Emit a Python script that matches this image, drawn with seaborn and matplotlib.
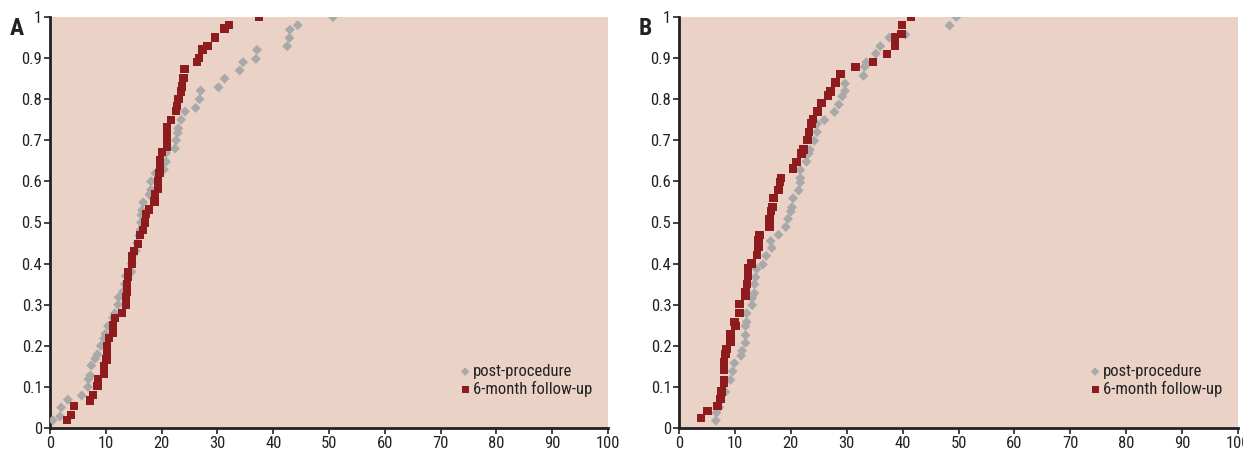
import pandas as pd
import matplotlib.pyplot as plt
import seaborn as sns

# Panel A data
a_post_x = [0.5, 1.8, 2.0, 3.2, 5.7, 6.8, 6.9, 7.2, 7.4, 8.1, 8.5, 9.1, 9.7, 9.9, 10.4, 11.3, 11.6, 12.2, 12.3, 13.1,
            13.4, 13.6, 14.6, 14.6, 14.8, 15.4, 15.6, 16.0, 16.2, 16.3, 16.4, 16.5, 16.7, 17.8, 18.1, 18.1, 18.9, 20.4, 20.8, 20.8,
            22.4, 22.6, 22.9, 23.0, 23.5, 24.2, 26.1, 26.8, 27.0, 30.2, 31.3, 34.0, 34.6, 36.9, 37.1, 42.5, 42.9, 43.0, 44.4, 50.7]
a_post_y = [0.019, 0.028, 0.05, 0.069, 0.079, 0.10, 0.119, 0.128, 0.152, 0.169, 0.179, 0.20, 0.218, 0.229, 0.248, 0.268, 0.279, 0.30, 0.318, 0.332,
            0.35, 0.37, 0.38, 0.40, 0.42, 0.431, 0.45, 0.468, 0.482, 0.50, 0.518, 0.53, 0.549, 0.568, 0.58, 0.60, 0.62, 0.629, 0.648, 0.669,
            0.68, 0.70, 0.718, 0.729, 0.75, 0.77, 0.779, 0.80, 0.821, 0.829, 0.85, 0.87, 0.89, 0.898, 0.92, 0.929, 0.949, 0.969, 0.98, 1.0]
a_fu_x = [3.1, 3.8, 4.3, 7.2, 7.7, 8.5, 8.6, 9.7, 9.7, 10.1, 10.2, 10.2, 10.6, 11.3, 11.3, 11.7, 12.9, 13.6, 13.6, 13.8,
          13.8, 14.0, 14.0, 14.7, 14.7, 15.1, 15.8, 16.1, 16.7, 17.0, 17.2, 17.8, 18.7, 18.8, 19.4, 19.4, 19.6, 19.7, 19.7, 20.1,
          21.0, 21.0, 21.0, 21.0, 21.7, 22.6, 22.8, 23.0, 23.5, 23.7, 23.9, 24.1, 26.4, 26.7, 27.3, 28.2, 29.6, 31.3, 32.1, 37.5]
a_fu_y = [0.019, 0.031, 0.053, 0.067, 0.08, 0.102, 0.119, 0.131, 0.15, 0.167, 0.182, 0.20, 0.219, 0.231, 0.25, 0.267, 0.28, 0.30, 0.319, 0.331,
          0.35, 0.367, 0.38, 0.40, 0.419, 0.431, 0.448, 0.47, 0.482, 0.50, 0.52, 0.532, 0.551, 0.569, 0.581, 0.60, 0.62, 0.632, 0.651, 0.671,
          0.683, 0.70, 0.72, 0.732, 0.749, 0.771, 0.783, 0.80, 0.819, 0.831, 0.851, 0.873, 0.89, 0.90, 0.921, 0.929, 0.95, 0.972, 0.98, 1.0]

# Panel B data
b_post_x = [6.6, 6.7, 7.2, 7.5, 8.3, 9.2, 9.6, 9.9, 11.1, 11.3, 11.9, 11.9, 11.9, 12.1, 12.1, 13.1, 13.1, 13.5, 13.5, 13.7,
            13.9, 15.0, 15.6, 16.6, 16.4, 17.8, 19.1, 19.5, 20.0, 20.2, 20.4, 21.4, 21.7, 21.7, 21.7, 22.8, 23.2, 23.4, 24.2, 24.7,
            24.7, 26.0, 27.8, 28.6, 29.2, 29.7, 29.7, 33.0, 33.2, 33.5, 35.2, 36.0, 37.6, 40.5, 48.4, 49.6]
b_post_y = [0.018, 0.037, 0.05, 0.067, 0.088, 0.117, 0.138, 0.158, 0.176, 0.188, 0.207, 0.226, 0.248, 0.258, 0.279, 0.299, 0.316, 0.328, 0.35, 0.367,
            0.387, 0.398, 0.419, 0.438, 0.455, 0.47, 0.489, 0.509, 0.527, 0.537, 0.559, 0.578, 0.597, 0.608, 0.628, 0.648, 0.668, 0.677, 0.699, 0.72,
            0.74, 0.749, 0.769, 0.787, 0.807, 0.82, 0.838, 0.857, 0.879, 0.89, 0.911, 0.929, 0.95, 0.957, 0.979, 1.0]
b_fu_x = [3.9, 5.1, 6.9, 7.4, 7.6, 8.1, 8.1, 8.1, 8.1, 8.3, 8.5, 9.2, 9.2, 10.1, 9.9, 10.8, 10.8, 11.9, 11.9, 12.2,
          12.4, 12.4, 12.95, 14.0, 14.2, 14.2, 14.4, 16.2, 16.2, 16.5, 16.7, 16.9, 17.8, 18.1, 18.3, 20.4, 21.0, 21.9, 22.3, 23.0,
          23.2, 23.7, 24.0, 24.8, 25.5, 26.7, 27.1, 28.0, 28.9, 31.6, 34.7, 37.2, 38.7, 38.7, 39.8, 39.9, 41.5]
b_fu_y = [0.024, 0.041, 0.053, 0.07, 0.089, 0.109, 0.116, 0.141, 0.16, 0.18, 0.192, 0.209, 0.228, 0.248, 0.258, 0.28, 0.302, 0.321, 0.331, 0.35,
          0.37, 0.389, 0.40, 0.421, 0.441, 0.457, 0.47, 0.489, 0.509, 0.528, 0.538, 0.56, 0.579, 0.599, 0.609, 0.631, 0.648, 0.668, 0.678, 0.70,
          0.721, 0.741, 0.752, 0.77, 0.79, 0.809, 0.819, 0.841, 0.861, 0.879, 0.89, 0.91, 0.929, 0.95, 0.958, 0.98, 1.0]

panels = ["A", "B"]
x_ticks = list(range(0, 101, 10))
y_ticks = [0, 0.1, 0.2, 0.3, 0.4, 0.5, 0.6, 0.7, 0.8, 0.9, 1]
y_tick_labels = ["0", "0.1", "0.2", "0.3", "0.4", "0.5", "0.6", "0.7", "0.8", "0.9", "1"]

bg = "#EBD2C7"
gray = "#A9A9A9"
red = "#8E1B1E"

sns.set_style("ticks")
plt.rcParams['font.family'] = ['Roboto Condensed', 'Liberation Sans Narrow', 'DejaVu Sans Condensed', 'DejaVu Sans']

fig = plt.figure(figsize=(12.43, 4.49), dpi=100)
ax_a = fig.add_axes([50 / 1243, 21 / 449, 558 / 1243, 411 / 449])
ax_b = fig.add_axes([679 / 1243, 21 / 449, 559 / 1243, 411 / 449])

data = [
    (ax_a, a_post_x, a_post_y, a_fu_x, a_fu_y),
    (ax_b, b_post_x, b_post_y, b_fu_x, b_fu_y),
]

for (ax, px, py, fx, fy), name in zip(data, panels):
    df_post = pd.DataFrame({"x": px, "y": py})
    df_fu = pd.DataFrame({"x": fx, "y": fy})
    sns.scatterplot(data=df_post, x="x", y="y", ax=ax, marker="D", s=26, color=gray,
                    edgecolor="none", label="post-procedure", zorder=3)
    sns.scatterplot(data=df_fu, x="x", y="y", ax=ax, marker="s", s=36, color=red,
                    edgecolor="none", label="6-month follow-up", zorder=4)
    ax.set_facecolor(bg)
    ax.set_xlim(0, 100)
    ax.set_ylim(0, 1)
    ax.set_xticks(x_ticks)
    ax.set_yticks(y_ticks)
    ax.set_yticklabels(y_tick_labels)
    ax.set_xlabel("")
    ax.set_ylabel("")
    for side in ["top", "right"]:
        ax.spines[side].set_visible(False)
    for side in ["left", "bottom"]:
        ax.spines[side].set_linewidth(2)
        ax.spines[side].set_color("#222222")
    ax.tick_params(axis="both", labelsize=12, length=4, width=1.2, color="#222222", labelcolor="#222222", pad=1.5)
    leg = ax.legend(loc="lower right", bbox_to_anchor=(0.983, 0.06), frameon=False, fontsize=12,
                    handletextpad=0.05, labelspacing=0.1, borderaxespad=0, handlelength=0.8,
                    markerscale=0.85)
    for t in leg.get_texts():
        t.set_color("#222222")
    ax.text(-0.072, 1.0, name, transform=ax.transAxes, fontsize=17, fontweight="bold",
            color="#222222", ha="left", va="top")

plt.savefig("out.png", dpi=100)
